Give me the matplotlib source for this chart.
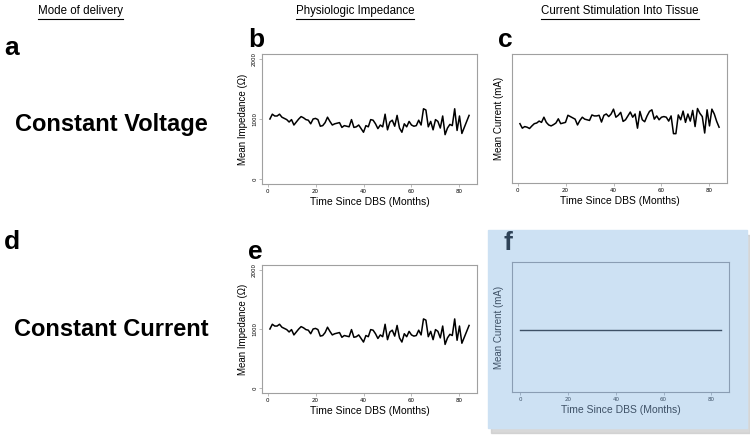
import matplotlib
matplotlib.use('Agg')
import matplotlib.pyplot as plt
from matplotlib.patches import Rectangle

# ---- data ----
months = list(range(1, 85))
impedance = [1000, 1080, 1050, 1050, 1080, 1030, 1010, 990, 950, 990,
             900, 950, 1000, 1040, 1020, 990, 980, 920, 1000, 1010,
             990, 880, 890, 940, 1030, 960, 900, 920, 930, 940,
             860, 890, 880, 870, 990, 860, 870, 900, 840, 780,
             890, 870, 990, 980, 920, 840, 900, 870, 1080, 820,
             950, 980, 880, 1060, 850, 780, 920, 870, 960, 900,
             880, 890, 980, 900, 1170, 1150, 870, 960, 820, 990,
             960, 850, 1050, 740, 850, 910, 890, 1170, 810, 1050,
             760, 860, 960, 1060]
current = [1.84, 1.70, 1.75, 1.73, 1.69, 1.77, 1.84, 1.86, 1.92, 1.88,
           2.04, 1.88, 1.80, 1.77, 1.81, 1.86, 1.99, 1.84, 1.86, 1.88,
           2.10, 2.06, 2.02, 1.98, 1.80, 1.94, 2.04, 1.98, 1.96, 1.94,
           2.11, 2.08, 2.08, 2.10, 1.89, 2.10, 2.14, 2.06, 2.14, 2.29,
           2.04, 2.10, 2.19, 1.91, 1.96, 2.08, 2.20, 2.04, 2.14, 1.70,
           2.22, 1.96, 1.90, 2.08, 2.22, 2.27, 1.98, 2.08, 1.96, 2.04,
           2.06, 2.04, 1.92, 2.08, 1.53, 1.53, 2.11, 1.96, 2.23, 1.88,
           2.14, 1.92, 2.25, 1.75, 2.31, 2.16, 2.06, 1.55, 2.27, 1.77,
           2.29, 2.14, 1.91, 1.73]
flat_months = [0, 84]
flat_current = [0.95, 0.95]

x_ticks = [0, 20, 40, 60, 80]
imp_ticks = [0, 1000, 2000]

headers = ['Mode of delivery', 'Physiologic Impedance',
           'Current Stimulation Into Tissue']
modes = ['Constant Voltage', 'Constant Current']

W, H = 750, 438
fig = plt.figure(figsize=(7.5, 4.38), dpi=100)
fig.patch.set_facecolor('white')

SANS = ['Liberation Sans', 'DejaVu Sans']


def rect(l, t, r, b):
    return [l / W, 1 - b / H, (r - l) / W, (b - t) / H]


def px(x, y):
    return x / W, 1 - y / H


def style_axes(ax, edge='#a0a0a0', text='black', face='white'):
    ax.set_facecolor(face)
    ax.set_zorder(3)
    for s in ax.spines.values():
        s.set_color(edge)
        s.set_linewidth(0.8)
    ax.tick_params(length=2, width=0.5, colors=edge, labelsize=4,
                   labelcolor=text, pad=1.5)
    ax.set_xticks(x_ticks)
    ax.set_xlabel('Time Since DBS (Months)', fontsize=7.5, family=SANS,
                  color=text, labelpad=2)


# panel b / e: impedance
for top, bottom in [(54, 184), (265, 393)]:
    ax = fig.add_axes(rect(262, top, 477, bottom))
    ax.plot(months, impedance, color='black', lw=1.1)
    ax.set_xlim(-2.3, 87.3)
    ax.set_ylim(-80, 2080)
    style_axes(ax)
    ax.set_yticks(imp_ticks)
    ax.set_yticklabels([str(v) for v in imp_ticks], rotation=90, va='center')
    ax.set_ylabel('Mean Impedance (\u03a9)', fontsize=7, family=SANS,
                  labelpad=3)

# panel c: current under constant voltage
ax = fig.add_axes(rect(512, 54, 727, 183))
ax.plot(months, current, color='black', lw=1.1)
ax.set_xlim(-2.3, 87.3)
ax.set_ylim(0, 4)
style_axes(ax)
ax.set_yticks([])
ax.set_ylabel('Mean Current (mA)', fontsize=7, family=SANS, labelpad=6)

# panel f: highlighted box with shadow
fig.patches.append(Rectangle(px(491, 433), 259 / W, 198 / H,
                             transform=fig.transFigure, color='#c8c8c8',
                             alpha=0.7, zorder=0))
fig.patches.append(Rectangle(px(488, 428), 259 / W, 198 / H,
                             transform=fig.transFigure, color='#cde1f3',
                             zorder=0.5))
ax = fig.add_axes(rect(512, 262, 729, 392))
ax.plot(flat_months, flat_current, color='#3e5166', lw=1.0)
ax.set_xlim(-3.4, 87.4)
ax.set_ylim(0, 2)
style_axes(ax, edge='#8a9db3', text='#3e5166', face='#cde1f3')
ax.set_yticks([])
ax.set_ylabel('Mean Current (mA)', fontsize=7, family=SANS,
              color='#3e5166', labelpad=6)

# headers, underlined
for x, txt in zip([80, 355, 620], headers):
    fig.text(*px(x, 11), txt, fontsize=8.3, family=SANS,
             ha='center', va='center')
fig.canvas.draw()
renderer = fig.canvas.get_renderer()
for t in list(fig.texts):
    bb = t.get_window_extent(renderer).transformed(fig.transFigure.inverted())
    fig.add_artist(plt.Line2D([bb.x0, bb.x1], [bb.y0 - 0.004, bb.y0 - 0.004],
                              transform=fig.transFigure, color='black',
                              lw=0.8))

# panel letters
letters = [('a', 4, 48, 'black'), ('b', 248, 40, 'black'),
           ('c', 498, 40, 'black'), ('d', 4, 242, 'black'),
           ('e', 248, 252, 'black'), ('f', 503, 243, '#2e4257')]
for lab, x, y, c in letters:
    fig.text(*px(x, y), lab, fontsize=19, fontweight='bold', family=SANS,
             color=c, va='center', ha='left', zorder=5)

# mode labels
for y, txt in zip([124, 330], modes):
    fig.text(*px(111, y), txt, fontsize=17, fontweight='bold',
             family=SANS, ha='center', va='center')

fig.savefig('out.png', dpi=100)
